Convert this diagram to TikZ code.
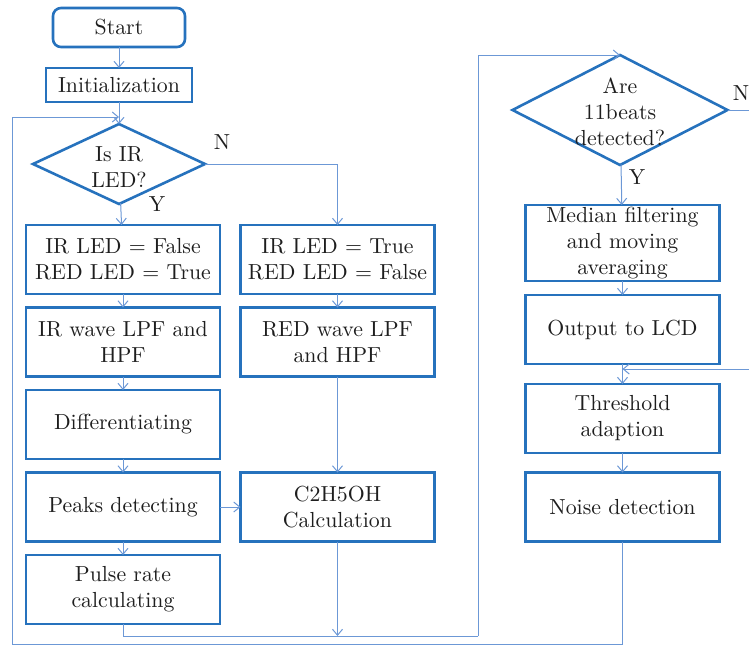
\documentclass[tikz,border=0pt]{standalone}
\usepackage{xcolor}
\usepackage{tikz}
\usetikzlibrary{shapes.geometric, arrows.meta, positioning}
\definecolor{boxblue}{RGB}{38,114,189}
\definecolor{linkblue}{RGB}{108,152,214}
\definecolor{txtgray}{RGB}{30,30,30}
\tikzset{
  stepbox/.style={
    rectangle, draw=boxblue, line width=1.3pt, minimum width=97pt,
    minimum height=34.5pt, align=center, inner sep=1pt, outer sep=0pt,
    text=txtgray
  },
  startbox/.style={stepbox, rounded corners=4pt, minimum width=66pt, minimum height=19.5pt},
  decision/.style={
    diamond, draw=boxblue, line width=1.3pt, inner sep=0pt, outer sep=0pt
  },
  link/.style={-{Straight Barb[length=3pt,width=5pt]}, draw=linkblue, line width=0.5pt},
  plain/.style={draw=linkblue, line width=0.5pt},
  yn/.style={text=txtgray, inner sep=0pt}
}
\begin{document}
\begin{tikzpicture}[x=0.5pt, y=-0.5pt, node distance=6.75pt,
  font=\fontsize{10.9}{13}\selectfont]
  \useasboundingbox (0,0) rectangle (749,645);

  % left column
  \node[startbox] (start) at (119,27.5) {Start};
  \node[stepbox, minimum width=73pt, minimum height=17pt] (init) at (119,85) {Initialization};
  \node[decision, minimum width=86pt, minimum height=40pt,
        label={[align=center,text=txtgray,yshift=-1.5pt]center:Is IR\\LED?}] (isir) at (119,164) {};
  \node[stepbox] (irfalse) at (123,259.5) {IR LED = False\\RED LED = True};
  \node[stepbox, below=of irfalse] (irwave) {IR wave LPF and\\HPF};
  \node[stepbox, below=of irwave]  (diff)   {Differentiating};
  \node[stepbox, below=of diff]    (peaks)  {Peaks detecting};
  \node[stepbox, below=of peaks]   (pulse)  {Pulse rate\\calculating};

  % middle column
  \node[stepbox] (irtrue) at (337.5,259.5) {IR LED = True\\RED LED = False};
  \node[stepbox, below=of irtrue]  (redwave) {RED wave LPF\\and HPF};
  \node[stepbox] (calc) at (irtrue |- peaks) {C2H5OH\\Calculation};

  % right column
  \node[decision, minimum width=107.5pt, minimum height=55pt,
        label={[align=center,text=txtgray,yshift=-1pt]center:Are\\11beats\\detected?}] (beats) at (620,110) {};
  \node[stepbox, minimum height=38pt, inner sep=0pt] (median) at (622.5,243) {Median filtering\\and moving\\averaging};
  \node[stepbox, below=7pt of median]  (output) {Output to LCD};
  \node[stepbox, below=10pt of output] (thresh) {Threshold\\adaption};
  \node[stepbox] (noise) at (median |- peaks) {Noise detection};

  % yes / no marks
  \node[yn] (n1) at (222,142) {N};
  \node[yn] (y1) at (157,204) {Y};
  \node[yn] (n2) at (741,93) {N};
  \node[yn] (y2) at (637,177) {Y};

  % loose ends
  \coordinate (loopin) at (119,117);
  \coordinate (loopBL) at (12,644);
  \coordinate (busR)   at (478,636);
  \coordinate (nOut)   at (749,110);
  \coordinate (nIn)    at (749,369);

  \foreach \from/\to in {start/init,init/isir,isir/irfalse,irfalse/irwave,irwave/diff,
      diff/peaks,peaks/pulse,irtrue/redwave,redwave/calc,beats/median,median/output,
      output/thresh,thresh/noise}
    \draw[link] (\from) -- (\to);
  \draw[link] (peaks) -- (calc);
  \draw[link] (isir.east) -| (irtrue.north);
  \draw[plain] (pulse.south) |- (busR);
  \draw[link] (calc.south) -- (calc.south |- busR);
  \draw[link] (busR) |- (beats.north);
  \draw[link] (noise.south) |- (loopBL) |- (loopin);
  \draw[plain] (beats.east) -- (nOut);
  \draw[link] (nIn) -- (nIn -| thresh.north);
\end{tikzpicture}
\end{document}
